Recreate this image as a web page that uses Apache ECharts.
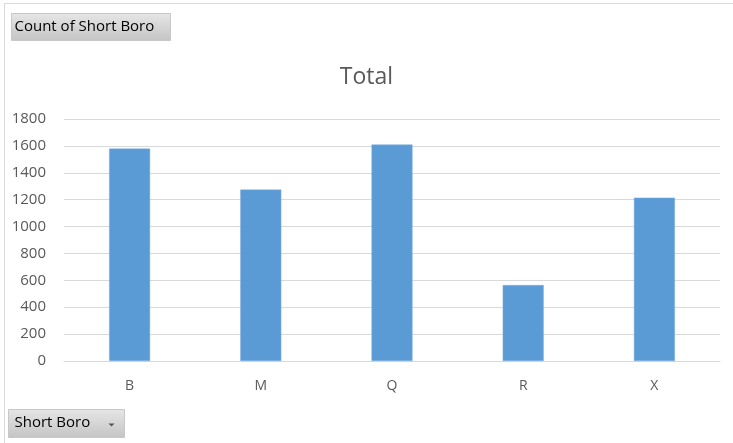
<!DOCTYPE html>
<html>
<head>
<meta charset="utf-8">
<script src="https://cdn.jsdelivr.net/npm/echarts@6/dist/echarts.min.js"></script>
<style>
html,body{margin:0;padding:0;background:#fff;}
#chart{width:733px;height:443px;}
</style>
</head>
<body>
<div id="chart"></div>
<script>
const categories = ['B', 'M', 'Q', 'R', 'X'];
const totals = [1580, 1275, 1610, 565, 1215];
const yTicks = [0, 200, 400, 600, 800, 1000, 1200, 1400, 1600, 1800];
const chartTitle = 'Total';
const valueButton = 'Count of Short Boro';
const axisButton = 'Short Boro';

const chart = echarts.init(document.getElementById('chart'), null, {renderer: 'canvas'});
const font = '"Open Sans", "DejaVu Sans", sans-serif';
const btnFill = new echarts.graphic.LinearGradient(0, 0, 0, 1, [
  {offset: 0, color: '#e6e6e6'},
  {offset: 1, color: '#c4c4c4'}
]);
chart.setOption({
  animation: false,
  title: {
    text: chartTitle,
    left: 'center',
    top: 61,
    textStyle: {fontFamily: font, fontSize: 23, fontWeight: 'normal', color: '#595959'}
  },
  grid: {left: 64, right: 13, top: 119, bottom: 82},
  xAxis: {
    type: 'category',
    data: categories,
    axisLine: {lineStyle: {color: '#d9d9d9', width: 1}},
    axisTick: {show: false},
    axisLabel: {fontFamily: font, fontSize: 14, color: '#595959', margin: 18}
  },
  yAxis: {
    type: 'value',
    min: yTicks[0],
    max: yTicks[yTicks.length - 1],
    interval: yTicks[1] - yTicks[0],
    axisLine: {show: false},
    axisTick: {show: false},
    splitLine: {lineStyle: {color: '#d9d9d9', width: 1}},
    axisLabel: {fontFamily: font, fontSize: 15, color: '#595959', margin: 18,
      formatter: function (v) { return String(v); }}
  },
  series: [{
    type: 'bar',
    data: totals,
    barWidth: 41,
    itemStyle: {color: '#5b9bd5', borderColor: '#79afe0', borderWidth: 0.5}
  }],
  graphic: [
    {type: 'rect', left: 2, top: 1, z: -1, shape: {width: 729, height: 450},
     style: {fill: 'none', stroke: '#d9d9d9', lineWidth: 1}},
    {type: 'group', left: 11, top: 13, children: [
      {type: 'rect', shape: {width: 159, height: 27}, style: {fill: btnFill, stroke: '#c8c8c8', lineWidth: 1}},
      {type: 'text', left: 3, top: 6, style: {text: valueButton, fontFamily: font, fontSize: 15, fill: '#000'}}
    ]},
    {type: 'group', left: 8, top: 409, children: [
      {type: 'rect', shape: {width: 116, height: 28}, style: {fill: btnFill, stroke: '#c8c8c8', lineWidth: 1}},
      {type: 'text', left: 6, top: 6, style: {text: axisButton, fontFamily: font, fontSize: 15, fill: '#000'}},
      {type: 'polygon', shape: {points: [[100, 14], [106, 14], [103, 17]]}, style: {fill: '#555'}}
    ]}
  ]
});
</script>
</body>
</html>
